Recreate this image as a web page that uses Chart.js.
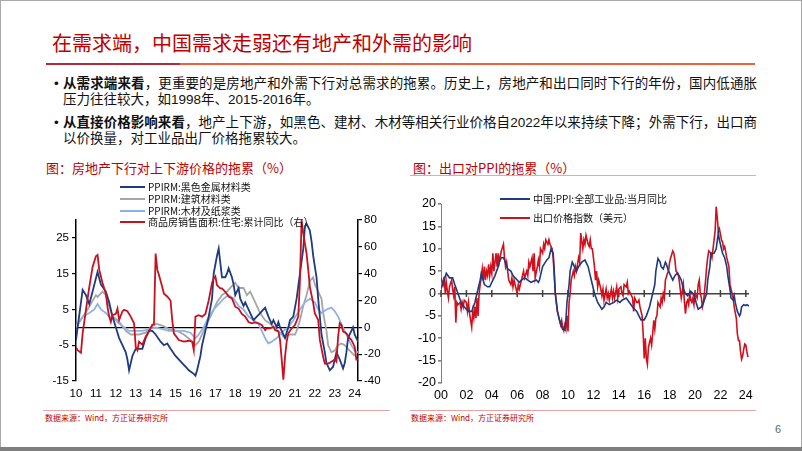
<!DOCTYPE html>
<html><head><meta charset="utf-8">
<script src="https://cdn.jsdelivr.net/npm/chart.js@4.4.1/dist/chart.umd.min.js"></script>
<style>
html,body{margin:0;padding:0;background:#fff;}
body{width:802px;height:451px;position:relative;overflow:hidden;font-family:"Liberation Sans","Noto Sans CJK SC",sans-serif;}
.frame{position:absolute;left:0;top:0;width:800px;height:447px;border:1px solid #a8a8a8;border-bottom:none;}
.bottombar{position:absolute;left:0;top:447px;width:802px;height:4px;background:#7f7f7f;}
.title{position:absolute;left:52px;top:31px;font-size:20px;line-height:24px;color:#c00000;font-family:"Noto Sans CJK SC",sans-serif;white-space:nowrap;}
.rule1{position:absolute;left:46px;top:63px;width:134px;height:2px;background:#b52a38;}
.rule2{position:absolute;left:180px;top:63px;width:575px;height:2px;background:#e8643c;}
.bul{position:absolute;left:63px;width:694px;font-size:13.5px;line-height:16px;color:#111;text-align:justify;}
.bul b{font-weight:700;}
.dot{position:absolute;left:-9px;top:0;}
.ctitle{position:absolute;top:160px;font-size:13px;line-height:16px;color:#c00000;white-space:nowrap;font-family:"Noto Sans CJK SC",sans-serif;}
.crule{position:absolute;height:1px;background:#eba5a5;}
.leg{position:absolute;font-size:10px;line-height:12px;color:#111;white-space:nowrap;font-family:"Noto Sans CJK SC",sans-serif;}
.leg i{position:absolute;height:2px;top:5px;}
.src{position:absolute;top:413px;font-size:8px;line-height:10px;color:#c00000;white-space:nowrap;font-family:"Noto Sans CJK SC",sans-serif;}
.srule{position:absolute;top:410px;height:1px;background:#e8a5a5;}
.pn{position:absolute;left:775px;top:423px;font-size:11px;color:#666;}
canvas{position:absolute;}
</style>
</head><body>
<div class="frame"></div><div class="bottombar"></div>
<div class="title">在需求端，中国需求走弱还有地产和外需的影响</div>
<div class="rule1"></div><div class="rule2"></div>
<div class="bul" style="top:76px"><span class="dot">•</span><b>从需求端来看</b>，更重要的是房地产和外需下行对总需求的拖累。历史上，房地产和出口同时下行的年份，国内低通胀压力往往较大，如1998年、2015-2016年。</div>
<div class="bul" style="top:115px"><span class="dot">•</span><b>从直接价格影响来看</b>，地产上下游，如黑色、建材、木材等相关行业价格自2022年以来持续下降；外需下行，出口商以价换量，对工业品出厂价格拖累较大。</div>

<div class="ctitle" style="left:46px">图：房地产下行对上下游价格的拖累（%）</div>
<div class="ctitle" style="left:413px">图：出口对PPI的拖累（%）</div>
<div class="crule" style="left:410px;top:175px;width:346px"></div>

<canvas id="cL" width="360" height="228" style="left:30px;top:178px"></canvas>
<canvas id="cR" width="380" height="228" style="left:400px;top:178px"></canvas>

<div id="legL"></div>
<div id="legR"></div>

<div class="srule" style="left:43px;width:347px"></div>
<div class="srule" style="left:410px;width:346px"></div>
<div class="src" style="left:45px">数据来源：Wind，方正证券研究所</div>
<div class="src" style="left:411px">数据来源：Wind，方正证券研究所</div>
<div class="pn">6</div>

<script>
// ---------- Left chart data (x = months since 2010-01) ----------
const leftSeriesNames = ['PPIRM:黑色金属材料类','PPIRM:建筑材料类','PPIRM:木材及纸浆类','商品房销售面积:住宅:累计同比（右）'];
const leftYearLabels = ['10','11','12','13','14','15','16','17','18','19','20','21','22','23','24'];
const leftYTicks = [-15,-5,5,15,25];
const ppiBlack = [[0,-3.5],[4,10.5],[6,9],[8,6.5],[10,10],[13,15.5],[15,12],[18,10],[20,7],[22,3],[24,0],[26,-3],[28,-5],[30,-7],[31,-9],[32,-12],[33,-10],[34,-8],[36,-6],[40,-6],[42,-3],[44,-1],[46,-1],[48,-2],[51,-4],[53,-5],[55,-4.5],[57,-6],[60,-8],[64,-10],[67,-11.5],[68,-12],[71,-13],[72,-13.5],[73,-12],[75,-8],[76,-5],[78,-1],[80,3],[82,8],[83,15],[85,20],[86,22],[87,18],[88,14],[90,14],[91,15],[92,16.5],[94,14],[95,12],[96,9],[98,11],[99,8],[101,6],[102,7],[104,5],[106,3],[107,2],[111,4],[114,5.5],[116,3],[118,1],[119,2],[121,0],[122,1.5],[123,0],[125,-2],[126,-3],[128,0],[129,2],[131,3],[133,8],[135,15],[137,22],[138,28],[139,29],[141,27],[142,24],[143,20],[145,14],[146,8],[147,3],[148,-2],[150,-7],[151,-10],[153,-12],[155,-11],[156,-9],[157,-7],[159,-9],[161,-11.5],[162,-10],[163,-7],[164,-3],[166,-1],[167,0],[168,-2],[170,-4]];
const ppiBuild = [[0,0],[7,5],[12,9],[13,8.5],[16,10],[18,9],[20,6],[22,3],[25,2],[27,1],[30,-1],[33,-2],[38,-2],[42,-1.5],[45,0],[48,1],[52,0.5],[56,-0.5],[61,-1],[65,-2],[69,-3.5],[72,-5],[74,-4],[76,-2],[79,1],[82,4],[85,7],[88,9],[91,10],[93,11],[96,12.5],[98,11],[101,11],[103,9],[105,10],[107,8],[109,6],[111,4],[114,2],[117,1],[121,-0.5],[124,-2],[126,-3],[128,-2],[132,-2],[133,-1],[135,2],[137,6],[139,9],[141,13],[143,14],[144,12],[146,10],[148,8],[149,4],[151,-1],[152,-5],[154,-7],[156,-6.5],[158,-5],[160,-4.5],[162,-5],[164,-6],[166,-7],[168,-8]];
const ppiWood = [[0,0],[4,3],[8,4],[11,5],[13,6.5],[15,5],[18,4],[20,3],[23,2.5],[26,1],[29,0],[32,-1],[40,-1],[44,-0.5],[48,0],[52,-0.5],[56,-1],[65,-1],[69,-1.5],[72,-3],[74,-2],[77,0],[80,3],[83,5],[86,6.5],[89,8],[92,9],[95,8],[98,6],[101,5],[104,3],[107,2],[110,1],[112,-1],[114,-3],[116,-4.5],[118,-4],[121,-3],[125,-1],[128,0],[131,2],[135,5],[138,7],[141,8],[144,7],[146,5],[148,4],[151,5],[154,5.5],[156,4.5],[158,3],[160,1],[162,-1],[164,-3],[166,-5],[168,-6.5],[170,-7]];
const salesArea = [[0,-15],[1,-17],[3,-19],[4,-4.5],[6,13],[8,30],[10,45],[12,53],[13,54],[14,43],[16,33],[18,25],[19,15],[20,8],[21,4],[22,9],[24,10],[25,14],[26,5.5],[28,12],[29,13],[31,12],[33,8],[35,3],[36,-14.5],[37,-17],[38,-10.7],[40,-13],[42,-7],[44,-3],[46,2],[47,2],[48,55],[49,43],[50,39],[52,30],[53,25],[55,23],[57,20],[58,5.5],[59,-4.5],[62,-9.5],[65,-10.7],[68,-10],[70,-10.7],[71,-17],[72,8],[74,9],[76,8],[78,10],[80,20],[82,33],[83,36.5],[84,38],[85,31.5],[87,29],[88,29],[90,26.5],[92,23],[94,21.6],[96,15.4],[98,14],[100,10],[102,8],[104,4],[106,3],[108,3.7],[110,3],[112,1.7],[114,-2],[115,-0.7],[117,-0.7],[119,0.5],[120,-2],[122,-3],[123,-9.4],[124,-24],[125,-39],[126,-22],[127,-10.7],[128,-4.5],[130,-0.7],[132,1.7],[134,8],[135,35],[136,80],[137,70],[139,55],[140,43],[141,30],[143,18],[144,10.4],[146,5.5],[147,-9.4],[149,-22],[150,-27],[152,-27],[154,-25.6],[156,-24],[157,-25.6],[158,-7],[159,3],[160,1.7],[161,-3],[163,-4.5],[165,-8],[166,-9.4],[168,-14.4],[169,-24],[170,-24]];

// ---------- Right chart data (x = months since 2000-01) ----------
const rightSeriesNames = ['中国:PPI:全部工业品:当月同比','出口价格指数（美元）'];
const rightYearLabels = ['00','02','04','06','08','10','12','14','16','18','20','22','24'];
const ppiAll = [[0,1],[3,3],[5,4.5],[8,3.5],[11,3.5],[13,2],[16,0],[19,-2],[22,-3],[26,-4],[29,-4],[32,-2],[34,0],[37,3],[38,4.5],[41,2],[44,1.5],[46,1.5],[49,3],[51,4],[54,6],[55,7],[57,8],[59,8],[61,7],[63,5.5],[66,5],[68,4],[70,3.5],[72,3],[74,2.5],[76,3],[79,3.5],[82,3],[85,2.5],[90,3],[92,2.5],[93,3],[96,6],[100,7.5],[102,8],[104,10],[106,9],[107,5],[108,0],[110,-4],[112,-6],[114,-7.5],[115,-8],[117,-8.2],[118,-6],[119,-2],[121,2],[122,5],[124,7],[126,6],[128,5],[130,6],[133,7],[136,7.5],[137,7],[139,6],[141,4],[143,2],[145,0],[148,-2],[152,-3.5],[154,-3],[156,-2],[159,-2.5],[163,-2],[166,-1.5],[169,-2],[171,-1.5],[175,-1],[178,-2],[181,-3],[185,-4],[187,-5],[189,-5.9],[192,-5.9],[194,-5],[197,-3],[199,-1],[202,2],[203,5],[205,7.8],[207,7],[208,6],[210,5.5],[212,7],[213,6.5],[215,5],[217,4],[219,3],[221,4],[223,4.5],[225,4],[227,3],[229,1],[231,0],[233,-0.5],[236,0.5],[238,0],[240,-1],[241,-2],[243,-3.5],[246,-3],[248,-2],[251,0],[252,3],[254,6],[255,9],[258,9],[260,10],[262,13.5],[263,12],[265,10],[266,9],[268,8],[270,6],[271,4],[273,1],[274,-1],[276,-1.5],[277,-0.5],[278,-2],[280,-4],[282,-5],[283,-4.5],[284,-3],[286,-2.5],[288,-2.7],[289,-2.5],[291,-2.8]];
const exportPrice = [[0,3.5],[2,2],[3,3.8],[4,0],[5,2.5],[6,0.5],[7,-1],[8,1.5],[10,3],[11,1],[12,-0.5],[13,1.5],[14,-6.5],[15,-2],[16,-2.5],[18,-2],[19,-3.5],[20,-2],[21,-3],[22,-1.5],[24,-2],[25,-4],[26,-2],[27,-4.5],[28,-6],[29,-7.5],[30,-4],[31,-5.5],[32,-3],[33,-5.5],[34,-1],[35,-5],[36,0],[37,2],[38,3.5],[39,5.5],[40,3],[41,6],[42,3],[43,5],[44,4],[45,6.5],[46,4],[47,6],[48,4.5],[49,9],[50,5],[52,9],[53,6],[54,9],[55,7],[57,9.5],[59,11],[60,8],[61,6],[62,7],[63,5],[64,3],[66,2],[67,3.5],[68,1.5],[69,3],[71,1],[72,0],[73,2],[74,1],[76,3],[77,4],[78,5],[79,3.5],[81,5],[82,4],[83,7],[84,6],[86,8],[87,5],[88,9],[89,3.5],[91,6],[92,7.5],[93,6],[94,10],[96,9],[97,11],[98,10],[99,12],[101,11],[102,12],[103,11],[105,10],[106,8],[107,4],[108,0],[109,-2],[110,-4],[111,-5],[113,-7],[114,-6],[115,-7.5],[116,-8.3],[117,-7],[118,-8],[119,-5],[120,-8.5],[121,-2],[122,0],[123,3],[125,5],[126,4],[127,6],[128,5],[130,8],[131,7],[132,13.5],[134,10],[135,12],[136,11],[137,13],[139,11],[140,10.5],[141,12],[142,10],[143,10],[145,6],[146,3],[147,5],[148,1.5],[149,3],[151,1],[152,-0.5],[153,1],[154,-1.5],[156,1],[157,-1],[158,0],[159,-1.5],[161,1],[162,-1],[163,0.5],[164,-1],[166,1.5],[167,-1],[168,1],[170,1.5],[171,0],[172,-0.5],[173,2],[175,1.5],[176,2.5],[177,0],[178,0.5],[180,-0.5],[181,-1],[182,-4],[183,-1],[185,-2],[186,-2],[187,-1.5],[188,-3],[190,-5],[191,-9],[192,-14.5],[193,-10],[194,-14.5],[195,-15.8],[196,-12],[197,-11],[198,-10],[199,-11.5],[200,-9],[201,-6],[202,-8],[203,-5.5],[204,-5],[205,-2],[207,-3],[208,-1],[209,-2],[210,0],[211,-1],[212,3],[214,4.5],[215,5],[216,7],[217,8],[219,9.5],[220,9],[221,7.5],[222,5],[224,4.5],[225,3],[226,1],[227,-1],[229,2],[230,-2],[231,-4.5],[232,-2],[233,-1.5],[234,-2.5],[235,0],[236,-1.5],[237,-2],[238,-1],[239,-2.5],[240,0],[242,-1],[243,2],[244,3],[245,0],[246,-1],[247,-3],[248,-2],[250,3],[251,6],[252,8],[253,9.5],[255,9],[256,8],[257,10],[258,12],[259,14],[260,19.4],[261,17],[262,14],[263,14.5],[265,12],[266,11.5],[267,10],[268,10.5],[270,8],[271,7],[272,6],[273,2],[274,1],[275,0],[276,-1],[277,-3],[279,-5.5],[280,-9],[281,-10.5],[282,-10.5],[283,-13],[284,-14.7],[285,-14],[286,-12.5],[287,-11.3],[288,-11.5],[289,-13],[290,-14.2]];

const toXY = a => a.map(p => ({x: p[0], y: p[1]}));
Chart.defaults.font.family = '"Liberation Sans", Arial, sans-serif';
Chart.defaults.color = '#000';

const leftColors = ['#1f3a80','#a6a6a6','#8fb2e6','#c8101e'];
const rightColors = ['#1f3a80','#d0101c'];

function buildLegend(id, names, colors, left, tops, sampleW) {
  const host = document.getElementById(id);
  names.forEach((n, i) => {
    const d = document.createElement('div');
    d.className = 'leg';
    d.style.left = left + 'px';
    d.style.top = tops[i] + 'px';
    d.style.paddingLeft = (sampleW + 3) + 'px';
    d.innerHTML = '<i style="left:0;width:' + sampleW + 'px;background:' + colors[i] + '"></i>' + n;
    host.appendChild(d);
  });
}
buildLegend('legL', leftSeriesNames, leftColors, 120, [181,193,205,216], 25);
buildLegend('legR', rightSeriesNames, rightColors, 500, [193,212], 30);

const tickFontL = {size: 11.5};
new Chart(document.getElementById('cL'), {
  type: 'line',
  data: {datasets: [
    {label: leftSeriesNames[0], data: toXY(ppiBlack), borderColor: leftColors[0], yAxisID: 'y', order: 2},
    {label: leftSeriesNames[1], data: toXY(ppiBuild), borderColor: leftColors[1], yAxisID: 'y', order: 4},
    {label: leftSeriesNames[2], data: toXY(ppiWood), borderColor: leftColors[2], yAxisID: 'y', order: 3},
    {label: leftSeriesNames[3], data: toXY(salesArea), borderColor: leftColors[3], yAxisID: 'y1', order: 1}
  ]},
  options: {
    responsive: false, animation: false, devicePixelRatio: 1,
    layout: {padding: {top: 42, left: 0, right: 0, bottom: 0}},
    plugins: {legend: {display: false}, tooltip: {enabled: false}},
    elements: {point: {radius: 0}, line: {tension: 0, borderWidth: 1.8, fill: false}},
    scales: {
      x: {type: 'linear', min: 0, max: 170,
        afterBuildTicks: s => { s.ticks = leftYearLabels.map((l, i) => ({value: i * 12})); },
        afterFit: s => { s.height = 25; },
        grid: {display: false, drawTicks: false, tickLength: 0}, border: {display: false},
        ticks: {autoSkip: false, maxRotation: 0, padding: 6, font: tickFontL, callback: (v, i) => leftYearLabels[i]}},
      y: {position: 'left', min: -15, max: 30,
        afterBuildTicks: s => { s.ticks = leftYTicks.map(v => ({value: v})); },
        afterFit: s => { s.width = 46; },
        grid: {drawOnChartArea: false, color: '#000', tickColor: '#000', tickLength: 4, lineWidth: 1.2},
        border: {display: true, color: '#000', width: 1.5},
        ticks: {padding: 3, font: tickFontL}},
      y1: {position: 'right', min: -40, max: 80,
        ticks: {stepSize: 20, padding: 2, font: tickFontL},
        afterFit: s => { s.width = 32; },
        grid: {drawOnChartArea: true, color: c => (c.tick && c.tick.value === 0) ? '#000' : 'rgba(0,0,0,0)', tickColor: '#000', tickLength: 4, lineWidth: 1.2},
        border: {display: true, color: '#000', width: 1.5}}
    }
  }
});

const zeroTicks = {
  id: 'zeroTicks',
  beforeDatasetsDraw(chart) {
    const {ctx, scales} = chart;
    const y0 = scales.y.getPixelForValue(0);
    ctx.save();
    ctx.strokeStyle = '#404040';
    ctx.lineWidth = 1.5;
    scales.x.ticks.forEach(t => {
      const px = scales.x.getPixelForValue(t.value);
      ctx.beginPath(); ctx.moveTo(px, y0 - 3.5); ctx.lineTo(px, y0 + 3.5); ctx.stroke();
    });
    ctx.restore();
  }
};

const tickFontR = {size: 12.5};
new Chart(document.getElementById('cR'), {
  type: 'line',
  data: {datasets: [
    {label: rightSeriesNames[0], data: toXY(ppiAll), borderColor: rightColors[0], order: 1},
    {label: rightSeriesNames[1], data: toXY(exportPrice), borderColor: rightColors[1], order: 2}
  ]},
  options: {
    responsive: false, animation: false, devicePixelRatio: 1,
    layout: {padding: {top: 26, left: 0, right: 31, bottom: 0}},
    plugins: {legend: {display: false}, tooltip: {enabled: false}},
    elements: {point: {radius: 0}, line: {tension: 0, borderWidth: 1.6, fill: false}},
    scales: {
      x: {type: 'linear', min: 0, max: 291,
        afterBuildTicks: s => { s.ticks = rightYearLabels.map((l, i) => ({value: i * 24})); },
        afterFit: s => { s.height = 23; },
        grid: {display: false, drawTicks: false, tickLength: 0}, border: {display: false},
        ticks: {autoSkip: false, maxRotation: 0, padding: 5, font: tickFontR, callback: (v, i) => rightYearLabels[i]}},
      y: {position: 'left', min: -20, max: 20,
        ticks: {stepSize: 5, padding: 2, font: tickFontR},
        afterFit: s => { s.width = 41; },
        grid: {drawOnChartArea: true, color: c => (c.tick && c.tick.value === 0) ? '#404040' : 'rgba(0,0,0,0)', tickColor: '#808080', tickLength: 3, lineWidth: 1.6},
        border: {display: true, color: '#808080', width: 1}}
    }
  },
  plugins: [zeroTicks]
});
</script>
</body></html>
